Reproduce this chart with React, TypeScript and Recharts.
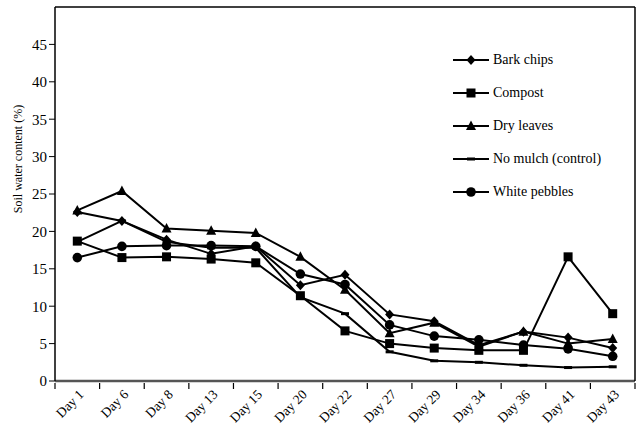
import React from "react";
import { LineChart, Line, XAxis, YAxis, Legend, Label } from "recharts";

const days = [
  "Day 1", "Day 6", "Day 8", "Day 13", "Day 15", "Day 20", "Day 22",
  "Day 27", "Day 29", "Day 34", "Day 36", "Day 41", "Day 43",
];
const barkChips = [22.6, 21.4, 18.9, 17.0, 18.0, 12.8, 14.2, 8.9, 8.0, 4.8, 6.6, 5.8, 4.4];
const compost = [18.7, 16.5, 16.6, 16.3, 15.8, 11.4, 6.7, 5.0, 4.4, 4.1, 4.1, 16.6, 9.0];
const dryLeaves = [22.8, 25.4, 20.4, 20.1, 19.8, 16.6, 12.2, 6.4, 7.8, 4.6, 6.6, 5.0, 5.6];
const noMulch = [18.6, 21.4, 18.6, 17.8, 17.8, 11.2, 9.0, 3.9, 2.7, 2.5, 2.1, 1.8, 1.9];
const whitePebbles = [16.5, 18.0, 18.1, 18.1, 18.0, 14.3, 12.9, 7.5, 6.0, 5.5, 4.8, 4.3, 3.3];
const yTicks = [0, 5, 10, 15, 20, 25, 30, 35, 40, 45];

type Shape = "diamond" | "square" | "triangle" | "dash" | "circle";

const SERIES: Array<{ key: string; name: string; shape: Shape; values: number[] }> = [
  { key: "bark", name: "Bark chips", shape: "diamond", values: barkChips },
  { key: "compost", name: "Compost", shape: "square", values: compost },
  { key: "dry", name: "Dry leaves", shape: "triangle", values: dryLeaves },
  { key: "none", name: "No mulch (control)", shape: "dash", values: noMulch },
  { key: "pebbles", name: "White pebbles", shape: "circle", values: whitePebbles },
];

const data = days.map((day, i) => {
  const row: Record<string, string | number> = { day };
  SERIES.forEach((s) => (row[s.key] = s.values[i]));
  return row;
});

const FONT = "Liberation Serif, DejaVu Serif, serif";
const HALF_STEP = 22.3; // half a category: ticks sit between days

function Marker({ shape, cx, cy }: { shape: Shape; cx: number; cy: number }) {
  switch (shape) {
    case "diamond":
      return (
        <polygon
          points={`${cx},${cy - 5} ${cx + 4.5},${cy} ${cx},${cy + 5} ${cx - 4.5},${cy}`}
          fill="#000"
        />
      );
    case "square":
      return <rect x={cx - 4.5} y={cy - 4.5} width={9} height={9} fill="#000" />;
    case "triangle":
      return (
        <polygon
          points={`${cx},${cy - 5.5} ${cx + 5},${cy + 4} ${cx - 5},${cy + 4}`}
          fill="#000"
        />
      );
    case "dash":
      return <rect x={cx - 4} y={cy - 1.5} width={8} height={3} fill="#000" />;
    default:
      return <circle cx={cx} cy={cy} r={4.8} fill="#000" />;
  }
}

function renderLegend() {
  return (
    <div style={{ fontFamily: FONT, fontSize: 14, color: "#000" }}>
      {SERIES.map((s) => (
        <div key={s.key} style={{ display: "flex", alignItems: "center", height: 33 }}>
          <svg width={38} height={14}>
            <line x1={0} y1={7} x2={36} y2={7} stroke="#000" strokeWidth={2} />
            <Marker shape={s.shape} cx={18} cy={7} />
          </svg>
          <span style={{ marginLeft: 2 }}>{s.name}</span>
        </div>
      ))}
    </div>
  );
}

function XTick(props: any) {
  const { x, y, payload, index } = props;
  const ax = x + 4;
  const ay = y + 7;
  const axisY = y - 2;
  return (
    <g>
      <line x1={x - HALF_STEP} x2={x - HALF_STEP} y1={axisY} y2={axisY + 6} stroke="#000" strokeWidth={1.2} />
      {index === days.length - 1 && (
        <line x1={x + HALF_STEP} x2={x + HALF_STEP} y1={axisY} y2={axisY + 6} stroke="#000" strokeWidth={1.2} />
      )}
      <text
        x={ax}
        y={ay}
        textAnchor="end"
        fontFamily={FONT}
        fontSize={13.5}
        fill="#000"
        transform={`rotate(-45, ${ax}, ${ay})`}
        dy="0.35em"
      >
        {payload.value}
      </text>
    </g>
  );
}

export default function App() {
  return (
    <div style={{ position: "absolute", left: 0, top: 0, background: "#fff" }}>
      <LineChart
        width={636}
        height={429}
        data={data}
        margin={{ top: 6, right: 0, left: 0, bottom: 0 }}
      >
        <XAxis
          dataKey="day"
          height={48}
          interval={0}
          padding={{ left: HALF_STEP, right: HALF_STEP }}
          tickLine={false}
          tickSize={2}
          axisLine={{ stroke: "#555", strokeWidth: 2.5 }}
          tick={<XTick />}
        />
        <XAxis
          xAxisId="top"
          orientation="top"
          dataKey="day"
          height={1}
          tick={false}
          tickLine={false}
          axisLine={{ stroke: "#000", strokeWidth: 1.5 }}
        />
        <YAxis
          domain={[0, 50]}
          ticks={yTicks}
          interval={0}
          width={55}
          tickSize={6}
          tickLine={{ stroke: "#000" }}
          axisLine={{ stroke: "#000", strokeWidth: 1.5 }}
          tick={{ fontFamily: FONT, fontSize: 15, fill: "#000" }}
        >
          <Label
            value="Soil water content (%)"
            angle={-90}
            position="insideLeft"
            offset={18}
            dy={-35}
            style={{ fontFamily: FONT, fontSize: 12, fill: "#000", textAnchor: "middle" }}
          />
        </YAxis>
        <YAxis
          yAxisId="right"
          orientation="right"
          domain={[0, 50]}
          width={1}
          tick={false}
          tickLine={false}
          axisLine={{ stroke: "#000", strokeWidth: 1.5 }}
        />
        <Legend
          content={renderLegend}
          layout="vertical"
          verticalAlign="middle"
          align="center"
          wrapperStyle={{ left: 453, top: 43, width: 180 }}
        />
        {SERIES.map((s) => (
          <Line
            key={s.key}
            dataKey={s.key}
            name={s.name}
            stroke="#000"
            strokeWidth={2}
            isAnimationActive={false}
            dot={(p: any) => <Marker key={`${s.key}-${p.index}`} shape={s.shape} cx={p.cx} cy={p.cy} />}
            activeDot={false}
          />
        ))}
      </LineChart>
    </div>
  );
}
